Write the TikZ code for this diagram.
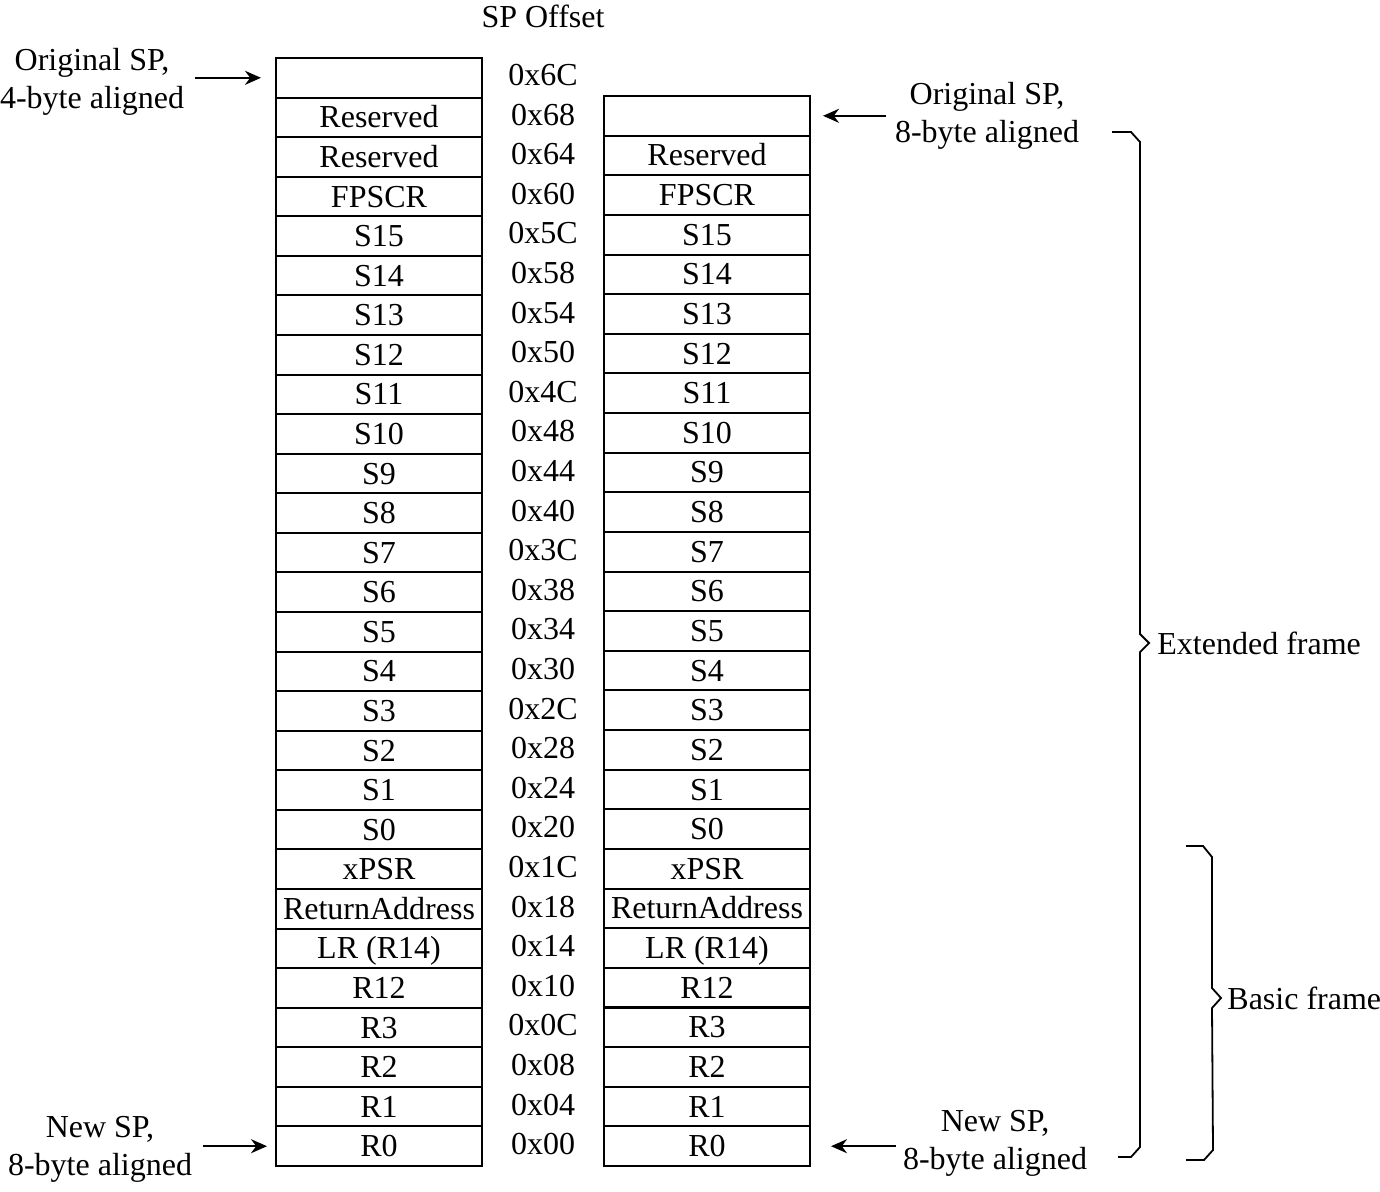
\documentclass[tikz,border=0pt]{standalone}
\usepackage{fontspec}
\setmainfont{Liberation Serif}
\usetikzlibrary{arrows.meta}

\begin{document}
\begin{tikzpicture}[x=0.5pt,y=-0.5pt,font=\fontsize{16}{19}\selectfont,
	cell/.style={draw,line width=1pt,minimum width=103pt,minimum height=19.8pt,inner sep=0pt,text height=12.5pt,text depth=2pt},
	offset/.style={inner sep=0pt,text height=12.5pt,text depth=2pt},
	spnote/.style={align=center,inner sep=0pt},
	pointer/.style={-{Stealth[length=8pt,width=7pt]},line width=1pt},
	frame/.style={line width=0.9pt,line join=miter}]
	\useasboundingbox (0,0) rectangle (1380,1191);

	\node at (543,16) (title) {SP Offset};

	% 4-byte aligned stack
	\foreach \t [count=\i from 0] in {{},Reserved,Reserved,FPSCR,S15,S14,S13,S12,S11,S10,S9,S8,S7,S6,S5,S4,S3,S2,S1,S0,xPSR,ReturnAddress,LR (R14),R12,R3,R2,R1,R0}
		\node[cell] at (379,{77.8+39.57*\i}) (l\i) {\t};

	\foreach \h [count=\i from 0] in {6C,68,64,60,5C,58,54,50,4C,48,44,40,3C,38,34,30,2C,28,24,20,1C,18,14,10,0C,08,04,00}
		\node[offset] at (543,{75+39.6*\i}) (o\i) {0x\h};

	% 8-byte aligned stack
	\foreach \t [count=\i from 0] in {{},Reserved,FPSCR,S15,S14,S13,S12,S11,S10,S9,S8,S7,S6,S5,S4,S3,S2,S1,S0,xPSR,ReturnAddress,LR (R14),R12,R3,R2,R1,R0}
		\node[cell] at (707,{115.8+39.63*\i}) (r\i) {\t};

	\node[spnote] at (92,82) (origfour) {Original SP,\\4-byte aligned};
	\node[spnote] at (987,116) (origeight) {Original SP,\\8-byte aligned};
	\node[spnote] at (100,1149) (newleft) {New SP,\\8-byte aligned};
	\node[spnote] at (995,1143) (newright) {New SP,\\8-byte aligned};

	\draw[pointer,shorten <=5.5pt,shorten >=7pt]	(origfour.east |- l0.west) -- (l0.west);
	\draw[pointer,shorten <=4.5pt,shorten >=6pt]	(origeight.west |- r0.east) -- (r0.east);
	\draw[pointer,shorten <=5.5pt,shorten >=4pt]	(newleft.east |- l27.west) -- (l27.west);
	\draw[pointer,shorten <=3.5pt,shorten >=10pt]	(newright.west |- r26.east) -- (r26.east);

	% frames
	\draw[frame] (1112,132) -- (1131,132) -- (1140,142) -- (1140,634) -- (1149,643) -- (1140,652) -- (1140,1147) -- (1131,1157) -- (1118,1157);
	\node[anchor=west,inner sep=0pt] at (1157,643) (extended) {Extended frame};
	\draw[frame] (1186,846) -- (1203,846) -- (1212,857) -- (1212,988) -- (1221,998) -- (1212,1008) -- (1213,1150) -- (1204,1160) -- (1186,1160);
	\node[anchor=west,inner sep=0pt] at (1227,998) (basic) {Basic frame};
\end{tikzpicture}
\end{document}
